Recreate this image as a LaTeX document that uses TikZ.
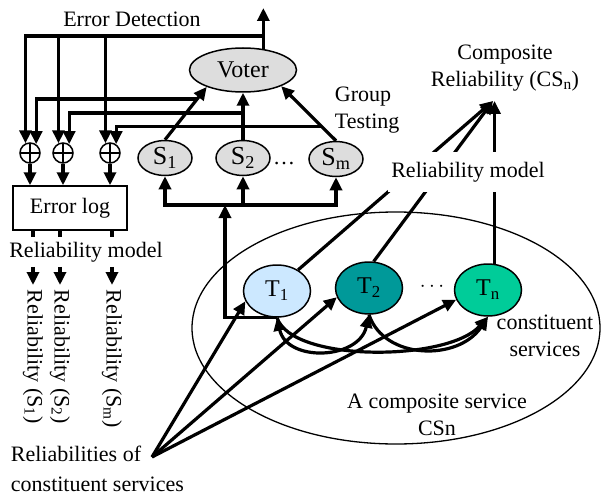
\documentclass[tikz,border=0pt]{standalone}
\usepackage{fontspec}
\setmainfont{Liberation Serif}
\usetikzlibrary{positioning, arrows.meta, shapes.geometric}

\definecolor{votergray}{RGB}{221,221,221}
\definecolor{tlight}{RGB}{204,232,255}
\definecolor{tteal}{RGB}{0,153,153}
\definecolor{tgreen}{RGB}{0,204,153}

\tikzset{
    svc/.style={draw, ellipse, line width=1.5pt, fill=votergray,
        minimum width=54, minimum height=35, inner sep=0pt,
        font=\fontsize{26}{30}\selectfont},
    tsvc/.style={draw, ellipse, line width=1.5pt,
        minimum width=67, minimum height=52,
        font=\fontsize{24}{28}\selectfont},
    xor/.style={draw, circle, line width=1.5pt, minimum size=20, inner sep=0pt,
        path picture={\draw [line width=1.5pt]
            (path picture bounding box.north) -- (path picture bounding box.south)
            (path picture bounding box.west) -- (path picture bounding box.east);}},
    rotlabel/.style={rotate=-90, anchor=west}
}

\begin{document}
\begin{tikzpicture}[x=1pt, y=1pt, >={Triangle[length=13pt, width=12pt]},
    line width=3.2pt, font=\fontsize{22}{27}\selectfont]
    \useasboundingbox (0,0) rectangle (602,-500);

    \node [draw, ellipse,
    line width=1.3pt,
    minimum width=408,
    minimum height=232
    ] (cs boundary) at (396,-328) {};

    \node [draw, ellipse,
    line width=1.5pt,
    fill=votergray,
    minimum width=107,
    minimum height=44,
    font=\fontsize{24}{28}\selectfont
    ] (voter) at (243,-70) {Voter};

    \node [svc] (s1) at (165,-158) {S\textsubscript{1}};
    \node [svc] (s2) at (243,-158) {S\textsubscript{2}};
    \node [svc] (sm) at (336,-159) {S\textsubscript{m}};
    \node (s dots) at (284,-164) {\dots};

    \node [align=left, anchor=west] (group testing) at (330,-110) {Group\\Testing};
    \node (error detection) at (132,-19) {Error Detection};

    \node [xor] (xor1) at (30,-153) {};
    \node [xor] (xor2) at (63,-153) {};
    \node [xor] (xor3) at (110,-153) {};

    \node [draw,
    line width=1.5pt,
    minimum width=114,
    minimum height=44
    ] (error log) at (70,-208) {Error log};

    \node (rel model left) at (86,-252) {Reliability model};
    \node [rotlabel] (rel s1) at (33,-285) {Reliability (S\textsubscript{1})};
    \node [rotlabel] (rel s2) at (60,-285) {Reliability (S\textsubscript{2})};
    \node [rotlabel] (rel sm) at (112,-285) {Reliability (S\textsubscript{m})};

    \node [tsvc, fill=tlight] (t1) at (277,-291) {T\textsubscript{1}};
    \node [tsvc, fill=tteal] (t2) at (369,-288) {T\textsubscript{2}};
    \node [tsvc, fill=tgreen] (tn) at (488,-290) {T\textsubscript{n}};
    \node (t dots) at (432,-287) {$\cdots$};

    \node [align=center] (constituent) at (545,-336) {constituent\\services};
    \node [align=center] (composite service) at (437,-415) {A composite service\\CSn};
    \node [align=center] (composite rel) at (505,-68) {Composite\\Reliability (CS\textsubscript{n})};
    \node [align=left, anchor=west,
    font=\fontsize{22}{30}\selectfont
    ] (reliabilities) at (6,-469) {Reliabilities of\\constituent services};

    \coordinate (rel point) at (152,-457);
    \coordinate (cr tip) at (493,-101);
    \coordinate (ed top) at (263,-8);
    \coordinate (ed bar) at (263,-36);
    \coordinate (s feed) at (225,-205);

    % voting
    \draw [->] (s1.north) -- coordinate [pos=0.77] (tap1) (voter.205);
    \draw [->] (s2.north) -- coordinate [pos=0.57] (tap2) (voter.south);
    \draw [->] (sm.north) -- coordinate [pos=0.26] (tap3) (voter.-23);

    % error detection
    \draw [->] (voter.46) -- (voter.46 |- ed top);
    \draw [->] (voter.46 |- ed bar) -| (xor1.115);
    \draw [->] (voter.46 |- ed bar) -| (xor2.115);
    \draw [->] (voter.46 |- ed bar) -| (xor3.115);
    \draw [->] (tap1) -| (xor1.55);
    \draw [->] (tap2) -| (xor2.55);
    \draw [->] (tap3) -| (xor3.55);

    \draw [->] (xor1.south) -- (xor1.south |- error log.north);
    \draw [->] (xor2.south) -- (xor2.south |- error log.north);
    \draw [->] (xor3.south) -- (xor3.south |- error log.north);

    \draw (error log.south -| rel s1.west) -- (rel model left.north -| rel s1.west);
    \draw (error log.south -| rel s2.west) -- (rel model left.north -| rel s2.west);
    \draw (error log.south -| rel sm.west) -- (rel model left.north -| rel sm.west);
    \draw [->] (rel model left.south -| rel s1.west) -- (rel s1.west);
    \draw [->] (rel model left.south -| rel s2.west) -- (rel s2.west);
    \draw [->] (rel model left.south -| rel sm.west) -- (rel sm.west);

    % group testing feed
    \draw [->] (s feed) -| (s1.south);
    \draw [->] (s feed) -| (sm.south);
    \draw [->] (s2.south |- s feed) -- (s2.south);
    \draw [->] (t1.south) -| (s feed);

    % between constituents
    \draw [<->] (t1.south) .. controls +(10,-45) and +(-10,-45) .. (t2.south);
    \draw [->] (t1.south) .. controls +(15,-45) and +(-40,-45) .. (tn.south);
    \draw [->] (t2.south) .. controls +(15,-45) and +(-30,-45) .. (tn.south);

    \draw [->] (rel point) -- (t1.198);
    \draw [->] (rel point) -- (t2.196);
    \draw [->] (rel point) -- (tn.197);

    % composite reliability
    \draw [->] (t1.45) -- (cr tip);
    \draw [->] (t2.80) -- (cr tip);
    \draw [->] (tn.76) -- (tn.76 |- cr tip);
    \node [fill=white, inner ysep=10pt] (rel model right) at (468,-172) {Reliability model};
\end{tikzpicture}
\end{document}
